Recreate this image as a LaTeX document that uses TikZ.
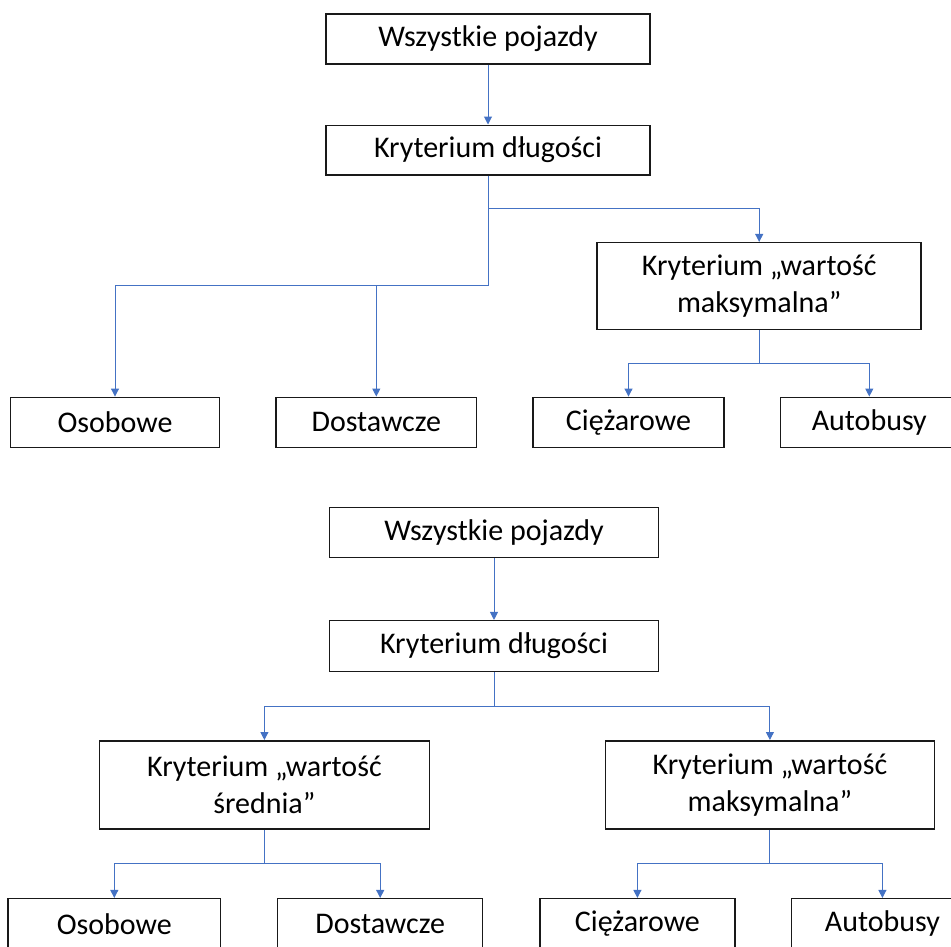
\documentclass[tikz,border=0pt]{standalone}
\usepackage{fontspec}
\setmainfont{Carlito}
\usetikzlibrary{arrows.meta}
\definecolor{conblue}{HTML}{4472C4}
\begin{document}
\begin{tikzpicture}[x=1pt,y=-1pt,
  box/.style={draw=black!90, line width=1.5pt, rectangle, inner sep=0pt,
    font=\fontsize{30}{36.5}\selectfont, align=center},
  conn/.style={draw=conblue, line width=1pt, -{Triangle[length=8pt,width=8pt]}},
  plain/.style={draw=conblue, line width=1pt}]
\useasboundingbox (0,0) rectangle (951,946);
\clip (0,0) rectangle (951,946);
% ---------- top diagram ----------
\node[box, minimum width=324pt, minimum height=50pt] (wp1) at (488,39) {Wszystkie pojazdy};
\node[box, minimum width=324pt, minimum height=49.5pt] (kd1) at (488,150) {Kryterium długości};
\node[box, minimum width=324pt, minimum height=87pt] (kwm1) at (759.2,286.2) {Kryterium „wartość\\maksymalna”};
\node[box, minimum width=209pt, minimum height=50pt] (os1) at (115,422.3) {Osobowe};
\node[box, minimum width=200.7pt, minimum height=50pt] (do1) at (376.3,422.3) {Dostawcze};
\node[box, minimum width=191pt, minimum height=50pt] (ci1) at (628.5,422.3) {Ciężarowe};
\node[box, minimum width=177.6pt, minimum height=50pt] (au1) at (869.3,422.3) {Autobusy};
\coordinate (j1) at (488,208.7);
\coordinate (j2) at (488,285.7);
\coordinate (j3) at (759.2,363);
\draw[conn] (wp1.south) -- (kd1.north);
\draw[plain] (kd1.south) -- (j2);
\draw[conn] (j1) -| (kwm1.north);
\draw[conn] (j2) -| (os1.north);
\draw[conn] (j2 -| do1.north) -- (do1.north);
\draw[plain] (kwm1.south) -- (j3);
\draw[conn] (j3) -| (ci1.north);
\draw[conn] (j3) -| (au1.north);
% ---------- bottom diagram ----------
\node[box, minimum width=329.3pt, minimum height=50.4pt] (wp2) at (494,532.5) {Wszystkie pojazdy};
\node[box, minimum width=329.3pt, minimum height=50.6pt] (kd2) at (494,646) {Kryterium długości};
\node[box, minimum width=330pt, minimum height=88.3pt] (kws) at (264.4,784.9) {Kryterium „wartość\\średnia”};
\node[box, minimum width=329.3pt, minimum height=88.3pt] (kwm2) at (769.9,784.9) {Kryterium „wartość\\maksymalna”};
\node[box, minimum width=212.8pt, minimum height=50pt] (os2) at (114.3,923.7) {Osobowe};
\node[box, minimum width=205pt, minimum height=50pt] (do2) at (380.2,923.7) {Dostawcze};
\node[box, minimum width=195.3pt, minimum height=50pt] (ci2) at (637.4,923.7) {Ciężarowe};
\node[box, minimum width=182pt, minimum height=50pt] (au2) at (882.4,923.7) {Autobusy};
\coordinate (j4) at (494,706);
\coordinate (j5) at (264.4,863.7);
\coordinate (j6) at (769.9,863.7);
\draw[conn] (wp2.south) -- (kd2.north);
\draw[plain] (kd2.south) -- (j4);
\draw[conn] (j4) -| (kws.north);
\draw[conn] (j4) -| (kwm2.north);
\draw[plain] (kws.south) -- (j5);
\draw[conn] (j5) -| (os2.north);
\draw[conn] (j5) -| (do2.north);
\draw[plain] (kwm2.south) -- (j6);
\draw[conn] (j6) -| (ci2.north);
\draw[conn] (j6) -| (au2.north);
\end{tikzpicture}
\end{document}
